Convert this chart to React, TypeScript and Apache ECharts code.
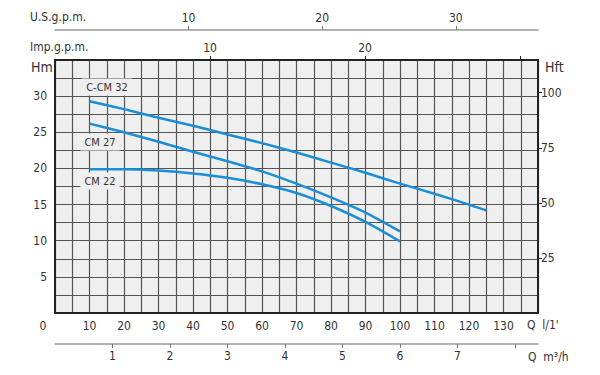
import React, { useEffect, useRef } from "react";
import * as echarts from "echarts";

// Flow (l/min) and head (m)
const cCm32Q = [10, 20, 30, 40, 50, 60, 70, 80, 90, 100, 110, 120, 125];
const cCm32H = [29.3, 28.2, 27.0, 25.9, 24.7, 23.5, 22.2, 20.8, 19.4, 17.9, 16.5, 15.0, 14.2];
const cm27Q = [10, 20, 30, 40, 50, 60, 70, 80, 90, 100];
const cm27H = [26.2, 25.0, 23.7, 22.3, 21.0, 19.6, 17.9, 16.0, 13.9, 11.3];
const cm22Q = [10, 20, 30, 40, 50, 60, 70, 80, 90, 100];
const cm22H = [19.9, 19.9, 19.7, 19.3, 18.7, 17.8, 16.6, 14.8, 12.6, 9.9];

const seriesNames = ["C-CM 32", "CM 27", "CM 22"];

// Tick labels
const qLabels = [10, 20, 30, 40, 50, 60, 70, 80, 90, 100, 110, 120, 130];
const hLabels = [5, 10, 15, 20, 25, 30];
const hftLabels = [25, 50, 75, 100];
const usLabels = [10, 20, 30];
const impTicks = [10, 20, 30];
const impLabels = [10, 20];
const m3Ticks = [1, 2, 3, 4, 5, 6, 7, 8];
const m3Labels = [1, 2, 3, 4, 5, 6, 7];

const Q_MAX = 140;
const H_MAX = 35;

const FONT = "DejaVu Sans Condensed";
const TXT = "#333";
const GRIDC = "#555";
const BORDER = "#222";
const BLUE = "#1b8ed8";

export default function App() {
  const ref = useRef<HTMLDivElement>(null);
  useEffect(() => {
    if (!ref.current) return;
    const chart = echarts.init(ref.current, null, { renderer: "svg" });
    const zip = (q: number[], h: number[]) => q.map((v, i) => [v, h[i]]);
    const lbl = { color: TXT, fontFamily: FONT, fontSize: 12 };
    const text = (x: number, y: number, t: string, size = 12, align = "left", bg?: string) => ({
      type: "text",
      x,
      y,
      z: 20,
      style: {
        text: t,
        fill: TXT,
        font: `${size}px "${FONT}"`,
        textAlign: align,
        textVerticalAlign: "middle",
        backgroundColor: bg,
        padding: bg ? [3, 4] : 0,
      },
    });
    chart.setOption({
      animation: false,
      grid: {
        left: 55,
        right: 62,
        top: 60,
        bottom: 62,
        show: true,
        backgroundColor: "#efefef",
        borderWidth: 0,
      },
      xAxis: [
        {
          type: "value",
          position: "bottom",
          min: 0,
          max: Q_MAX,
          interval: 5,
          axisLine: { show: true, onZero: false, lineStyle: { color: BORDER, width: 2 } },
          axisTick: { show: false },
          splitLine: { show: true, lineStyle: { color: GRIDC, width: 1.2 } },
          axisLabel: { ...lbl, margin: 7, customValues: qLabels },
        },
        {
          type: "value",
          position: "top",
          min: 0,
          max: 31.16,
          interval: 10,
          axisLine: { show: true, onZero: false, lineStyle: { color: BORDER, width: 2 } },
          axisTick: { show: true, inside: false, length: 4, lineStyle: { color: BORDER }, customValues: impTicks },
          splitLine: { show: false },
          axisLabel: { ...lbl, margin: 6, customValues: impLabels },
        },
        {
          type: "value",
          position: "top",
          offset: 30,
          min: 0,
          max: 36.15,
          interval: 10,
          axisLine: { show: true, onZero: false, lineStyle: { color: "#999", width: 1.5 } },
          axisTick: { show: true, inside: false, length: 4, lineStyle: { color: "#777" }, customValues: usLabels },
          splitLine: { show: false },
          axisLabel: { ...lbl, margin: 6, customValues: usLabels },
        },
        {
          type: "value",
          position: "bottom",
          offset: 31,
          min: 0,
          max: Q_MAX / 16.6667,
          interval: 1,
          axisLine: { show: true, onZero: false, lineStyle: { color: "#999", width: 1.5 } },
          axisTick: { show: true, inside: false, length: 4, lineStyle: { color: "#777" }, customValues: m3Ticks },
          splitLine: { show: false },
          axisLabel: { ...lbl, margin: 6, customValues: m3Labels },
        },
      ],
      yAxis: [
        {
          type: "value",
          position: "left",
          min: 0,
          max: H_MAX,
          interval: 2.5,
          axisLine: { show: true, onZero: false, lineStyle: { color: BORDER, width: 2 } },
          axisTick: { show: false },
          splitLine: { show: true, lineStyle: { color: GRIDC, width: 1.2 } },
          axisLabel: { ...lbl, margin: 8, customValues: hLabels },
        },
        {
          type: "value",
          position: "right",
          min: 0,
          max: H_MAX / 0.3048,
          interval: 25,
          axisLine: { show: true, onZero: false, lineStyle: { color: BORDER, width: 2 } },
          axisTick: { show: true, inside: false, length: 4, lineStyle: { color: BORDER }, customValues: hftLabels },
          splitLine: { show: false },
          axisLabel: { ...lbl, margin: 3, customValues: hftLabels },
        },
      ],
      series: [
        { name: seriesNames[0], data: zip(cCm32Q, cCm32H) },
        { name: seriesNames[1], data: zip(cm27Q, cm27H) },
        { name: seriesNames[2], data: zip(cm22Q, cm22H) },
      ].map((s) => ({
        ...s,
        type: "line",
        xAxisIndex: 0,
        yAxisIndex: 0,
        smooth: 0.25,
        showSymbol: false,
        silent: true,
        z: 5,
        lineStyle: { color: BLUE, width: 2.5 },
      })),
      graphic: [
        text(30, 17, "U.S.g.p.m."),
        text(30, 47, "Imp.g.p.m."),
        text(31, 67, "Hm", 14),
        text(545, 67, "Hft", 14),
        text(43, 326, "0", 12, "center"),
        text(527, 325, "Q  l/1'"),
        text(528, 357, "Q  m³/h"),
        text(107, 87, seriesNames[0], 11, "center", "#efefef"),
        text(100, 142, seriesNames[1], 11, "center", "#efefef"),
        text(100, 181, seriesNames[2], 11, "center", "#efefef"),
      ],
    });
    return () => chart.dispose();
  }, []);
  return <div ref={ref} style={{ width: 600, height: 375, position: "absolute", left: 0, top: 0 }} />;
}
